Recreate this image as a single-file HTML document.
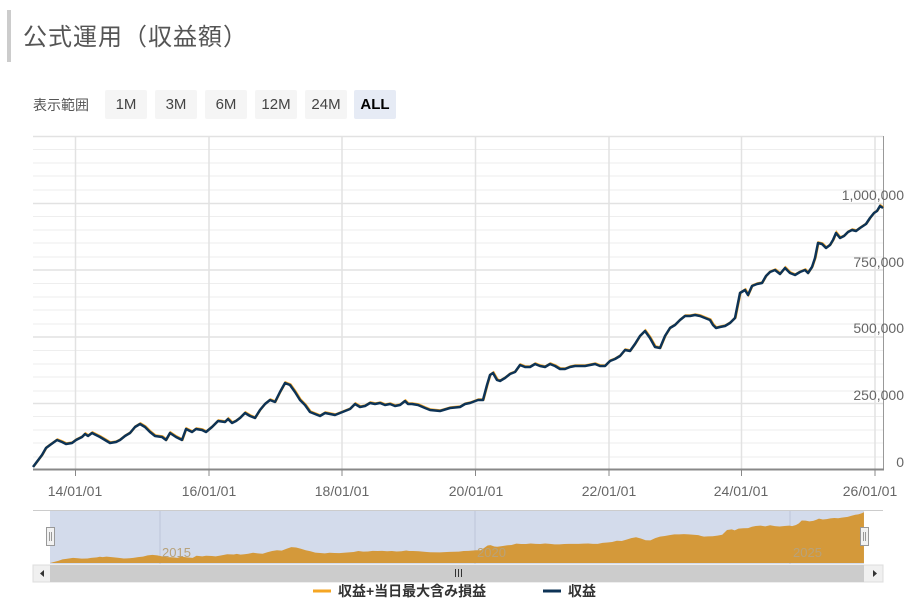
<!DOCTYPE html>
<html><head><meta charset="utf-8"><style>
body{margin:0;background:#fff;width:914px;height:607px;overflow:hidden;font-family:"Liberation Sans","Noto Sans CJK JP",sans-serif}
.bar{position:absolute;left:7px;top:10px;width:4px;height:52px;background:#ccc}
.title{position:absolute;left:23px;top:17px;font-size:24px;color:#555;letter-spacing:1px}
.lbl{position:absolute;left:33px;top:95px;font-size:14px;color:#555}
.btn{position:absolute;top:90px;height:29px;line-height:29px;width:42px;text-align:center;background:#f5f5f5;font-size:15px;color:#444;border-radius:2px}
</style></head><body>
<div class="bar"></div>
<div class="title">公式運用（収益額）</div>
<div class="lbl">表示範囲</div>
<div class="btn" style="left:105px">1M</div>
<div class="btn" style="left:155px">3M</div>
<div class="btn" style="left:205px">6M</div>
<div class="btn" style="left:255px">12M</div>
<div class="btn" style="left:305px">24M</div>
<div class="btn" style="left:354px;background:#e6ebf5;color:#000;font-weight:bold">ALL</div>
<svg width="914" height="607" style="position:absolute;left:0;top:0" font-family="Liberation Sans, Noto Sans CJK JP, sans-serif">
<defs>
<path id="d" d="M33,467 L36,463 L42,455 L46,448 L50,445 L57,440 L62,442 L66,444 L72,443 L76,440 L82,437 L85,434 L88,436 L92,433 L100,437 L105,440 L110,443 L116,442 L120,440 L125,436 L130,433 L135,427 L140,424 L145,427 L150,432 L155,436 L162,437 L166,440 L170,433 L176,437 L182,440 L186,429 L192,432 L196,429 L202,430 L206,432 L212,427 L218,421 L225,422 L228,419 L232,423 L236,421 L240,418 L245,413 L250,416 L255,418 L260,410 L265,404 L270,400 L275,402 L280,392 L285,383 L290,385 L295,392 L300,400 L305,405 L310,412 L315,414 L320,416 L325,413 L330,414 L335,415 L340,413 L345,411 L350,409 L355,404 L360,407 L365,406 L370,403 L375,404 L380,403 L385,405 L390,404 L395,406 L400,405 L405,401 L408,404 L412,404 L418,405 L425,408 L430,410 L440,411 L450,408 L460,407 L465,404 L470,403 L478,400 L483,400 L487,385 L490,375 L493,373 L497,380 L500,381 L505,378 L510,374 L515,372 L520,365 L525,367 L530,367 L535,364 L540,366 L545,367 L550,364 L555,366 L560,369 L565,369 L570,367 L575,366 L580,366 L585,366 L590,365 L595,364 L600,366 L605,366 L610,361 L615,359 L620,356 L625,350 L630,351 L635,344 L640,336 L645,331 L650,338 L655,347 L660,348 L665,336 L670,328 L675,325 L680,320 L685,316 L690,316 L695,315 L700,316 L705,318 L710,320 L713,325 L716,328 L720,327 L725,326 L730,323 L735,318 L740,293 L745,290 L748,295 L752,286 L757,284 L762,283 L766,276 L770,272 L775,270 L780,274 L785,268 L790,273 L795,275 L800,272 L805,270 L808,273 L812,267 L815,258 L818,243 L822,244 L826,248 L830,245 L833,240 L836,233 L840,238 L844,236 L848,232 L852,230 L856,231 L860,228 L866,224 L870,218 L874,213 L877,211 L880,206 L883,208"/>
</defs>
<g stroke="#eee" stroke-width="1">
<line x1="33" x2="883" y1="149.5" y2="149.5"/><line x1="33" x2="883" y1="163" y2="163"/><line x1="33" x2="883" y1="176" y2="176"/><line x1="33" x2="883" y1="190" y2="190"/>
<line x1="33" x2="883" y1="216.5" y2="216.5"/><line x1="33" x2="883" y1="230" y2="230"/><line x1="33" x2="883" y1="243" y2="243"/><line x1="33" x2="883" y1="257" y2="257"/>
<line x1="33" x2="883" y1="283.5" y2="283.5"/><line x1="33" x2="883" y1="297" y2="297"/><line x1="33" x2="883" y1="310" y2="310"/><line x1="33" x2="883" y1="324" y2="324"/>
<line x1="33" x2="883" y1="350.5" y2="350.5"/><line x1="33" x2="883" y1="364" y2="364"/><line x1="33" x2="883" y1="377" y2="377"/><line x1="33" x2="883" y1="391" y2="391"/>
<line x1="33" x2="883" y1="416.5" y2="416.5"/><line x1="33" x2="883" y1="430" y2="430"/><line x1="33" x2="883" y1="443" y2="443"/><line x1="33" x2="883" y1="457" y2="457"/>
</g>
<g stroke="#e2e2e2" stroke-width="1.5">
<line x1="33" x2="883" y1="136.5" y2="136.5"/><line x1="33" x2="883" y1="203.5" y2="203.5"/><line x1="33" x2="883" y1="270" y2="270"/><line x1="33" x2="883" y1="337" y2="337"/><line x1="33" x2="883" y1="403.5" y2="403.5"/>
<line x1="75.5" x2="75.5" y1="136" y2="470"/><line x1="209" x2="209" y1="136" y2="470"/><line x1="342" x2="342" y1="136" y2="470"/><line x1="475.5" x2="475.5" y1="136" y2="470"/><line x1="609" x2="609" y1="136" y2="470"/><line x1="741.5" x2="741.5" y1="136" y2="470"/><line x1="875" x2="875" y1="136" y2="470"/>
</g>
<line x1="883.5" x2="883.5" y1="136" y2="470" stroke="#999"/>
<line x1="33" x2="884" y1="469.5" y2="469.5" stroke="#888" stroke-width="2"/>
<g stroke="#888"><line x1="75.5" x2="75.5" y1="470" y2="476"/><line x1="209" x2="209" y1="470" y2="476"/><line x1="342" x2="342" y1="470" y2="476"/><line x1="475.5" x2="475.5" y1="470" y2="476"/><line x1="609" x2="609" y1="470" y2="476"/><line x1="741.5" x2="741.5" y1="470" y2="476"/><line x1="875" x2="875" y1="470" y2="476"/></g>
<g fill="#666" font-size="14" text-anchor="end">
<text x="904" y="200">1,000,000</text><text x="904" y="267">750,000</text><text x="904" y="333">500,000</text><text x="904" y="400">250,000</text><text x="904" y="467">0</text>
</g>
<g fill="#666" font-size="14" text-anchor="middle">
<text x="75" y="496">14/01/01</text><text x="209" y="496">16/01/01</text><text x="342" y="496">18/01/01</text><text x="476" y="496">20/01/01</text><text x="609" y="496">22/01/01</text><text x="741" y="496">24/01/01</text><text x="870" y="496">26/01/01</text>
</g>
<use href="#d" fill="none" stroke="#f5a623" stroke-width="2.5" transform="translate(0.5,-0.5)"/>
<use href="#d" fill="none" stroke="#0d3356" stroke-width="2.5" stroke-linejoin="round"/>
<!-- navigator -->
<line x1="33" x2="883" y1="510.5" y2="510.5" stroke="#ccc"/>
<rect x="50" y="511" width="814" height="53" fill="#d3dbeb"/>
<g stroke="#bcc6d8"><line x1="160" x2="160" y1="511" y2="564"/><line x1="475" x2="475" y1="511" y2="564"/><line x1="790" x2="790" y1="511" y2="564"/></g>
<g transform="matrix(0.9576,0,0,0.19,18.4,474.3)"><path d="M33,467 L33,467 L36,463 L42,455 L46,448 L50,445 L57,440 L62,442 L66,444 L72,443 L76,440 L82,437 L85,434 L88,436 L92,433 L100,437 L105,440 L110,443 L116,442 L120,440 L125,436 L130,433 L135,427 L140,424 L145,427 L150,432 L155,436 L162,437 L166,440 L170,433 L176,437 L182,440 L186,429 L192,432 L196,429 L202,430 L206,432 L212,427 L218,421 L225,422 L228,419 L232,423 L236,421 L240,418 L245,413 L250,416 L255,418 L260,410 L265,404 L270,400 L275,402 L280,392 L285,383 L290,385 L295,392 L300,400 L305,405 L310,412 L315,414 L320,416 L325,413 L330,414 L335,415 L340,413 L345,411 L350,409 L355,404 L360,407 L365,406 L370,403 L375,404 L380,403 L385,405 L390,404 L395,406 L400,405 L405,401 L408,404 L412,404 L418,405 L425,408 L430,410 L440,411 L450,408 L460,407 L465,404 L470,403 L478,400 L483,400 L487,385 L490,375 L493,373 L497,380 L500,381 L505,378 L510,374 L515,372 L520,365 L525,367 L530,367 L535,364 L540,366 L545,367 L550,364 L555,366 L560,369 L565,369 L570,367 L575,366 L580,366 L585,366 L590,365 L595,364 L600,366 L605,366 L610,361 L615,359 L620,356 L625,350 L630,351 L635,344 L640,336 L645,331 L650,338 L655,347 L660,348 L665,336 L670,328 L675,325 L680,320 L685,316 L690,316 L695,315 L700,316 L705,318 L710,320 L713,325 L716,328 L720,327 L725,326 L730,323 L735,318 L740,293 L745,290 L748,295 L752,286 L757,284 L762,283 L766,276 L770,272 L775,270 L780,274 L785,268 L790,273 L795,275 L800,272 L805,270 L808,273 L812,267 L815,258 L818,243 L822,244 L826,248 L830,245 L833,240 L836,233 L840,238 L844,236 L848,232 L852,230 L856,231 L860,228 L866,224 L870,218 L874,213 L877,211 L880,206 L883,200 L883,467 Z" fill="#d4993a"/></g>
<g fill="#b8a27a" font-size="13"><text x="162" y="557">2015</text><text x="477" y="557">2020</text><text x="793" y="557">2025</text></g>
<g fill="#f2f2f2" stroke="#999"><rect x="46.5" y="527.5" width="8" height="18"/><rect x="860.5" y="527.5" width="8" height="18"/></g>
<g stroke="#999"><line x1="49.5" x2="49.5" y1="532" y2="541"/><line x1="51.5" x2="51.5" y1="532" y2="541"/><line x1="863.5" x2="863.5" y1="532" y2="541"/><line x1="865.5" x2="865.5" y1="532" y2="541"/></g>
<!-- scrollbar -->
<rect x="33" y="565" width="850" height="17" fill="#f0f0f0" stroke="#ddd"/>
<rect x="50" y="565" width="814" height="17" fill="#cccccc"/>
<path d="M44,570 L40,573.5 L44,577 Z" fill="#333"/><path d="M873,570 L877,573.5 L873,577 Z" fill="#333"/>
<g stroke="#333"><line x1="455.5" x2="455.5" y1="569" y2="577"/><line x1="458.5" x2="458.5" y1="569" y2="577"/><line x1="461.5" x2="461.5" y1="569" y2="577"/></g>
<!-- legend -->
<line x1="313" x2="331" y1="591" y2="591" stroke="#f5a623" stroke-width="3"/>
<text x="338" y="596" font-size="14" font-weight="bold" fill="#333">収益+当日最大含み損益</text>
<line x1="543" x2="561" y1="591" y2="591" stroke="#0d3356" stroke-width="3"/>
<text x="568" y="596" font-size="14" font-weight="bold" fill="#333">収益</text>
</svg>
</body></html>
